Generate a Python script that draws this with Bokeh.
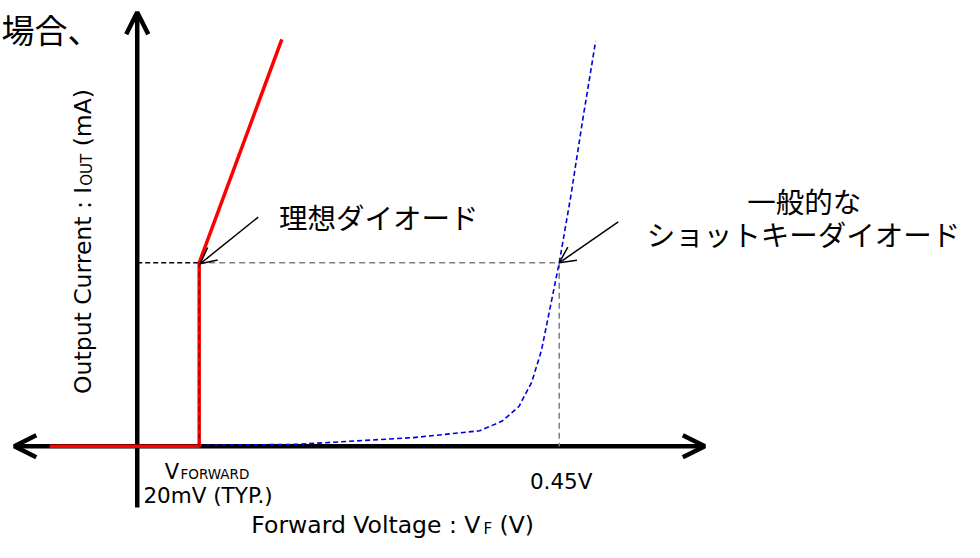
import math
from bokeh.plotting import figure
from bokeh.models import Range1d, Arrow, OpenHead
from bokeh.core.properties import value
from bokeh.embed import file_html
from bokeh.resources import INLINE

# Schematic units: origin where the two axes cross, x to the right, current upward (not to scale)
ideal_v = [-89, 63, 63, 147]
ideal_i = [0, 0, 189, 419]
schottky_v = [61, 161, 281, 348, 371, 388, 401, 411, 420, 429, 441, 453, 466]
schottky_i = [1, 2, 9, 16, 26, 41, 66, 99, 144, 189, 259, 337, 417]
op_ideal = (63, 189)       # ideal diode operating point
op_schottky = (429, 189)   # Schottky operating point (0.45V)

x_label_main = "Forward Voltage : V"
x_label_sub = "F"
x_label_tail = "(V)"
y_label_main = "Output Current : I"
y_label_sub = "OUT"
y_label_tail = "(mA)"
ideal_name = "理想ダイオード"
schottky_name = ["一般的な", "ショットキーダイオード"]
tick_045 = "0.45V"
vf_main = "V"
vf_sub = "FORWARD"
vf_value = "20mV (TYP.)"
cut_text = "場合、"

LATIN = value("DejaVu Sans")
CJK = value("Noto Sans CJK JP")

W, H = 964, 542
XR = (-139, 841)
YR = (-99, 459)
sx = W / (XR[1] - XR[0])   # px per unit
sy = H / (YR[1] - YR[0])

p = figure(width=W, height=H, output_backend="svg", toolbar_location=None,
           x_range=Range1d(*XR), y_range=Range1d(*YR),
           min_border=0, outline_line_color=None)
p.xaxis.visible = False
p.yaxis.visible = False
p.grid.visible = False
p.background_fill_color = "white"
p.border_fill_color = "white"

# axes with open arrowheads (drawn underneath the curves)
p.add_layout(Arrow(end=OpenHead(size=22, line_width=4.5, line_color="black"),
                   x_start=0, y_start=-63, x_end=0, y_end=447,
                   line_width=4.5, line_color="black", level="underlay"))
p.add_layout(Arrow(start=OpenHead(size=22, line_width=4.5, line_color="black"),
                   end=OpenHead(size=22, line_width=4.5, line_color="black"),
                   x_start=-125, y_start=0, x_end=577, y_end=0,
                   line_width=4.5, line_color="black", level="underlay"))

# guide lines
p.line([0, op_ideal[0]], [op_ideal[1], op_ideal[1]], line_color="black",
       line_width=1.5, line_dash="5 3")
p.line([op_ideal[0], op_schottky[0]], [op_ideal[1], op_schottky[1]], line_color="#808080",
       line_width=1.5, line_dash="6 4")
p.line([op_schottky[0], op_schottky[0]], [op_schottky[1], 0], line_color="#808080",
       line_width=1.5, line_dash="6 4")

# curves
p.line(schottky_v, schottky_i, line_color="#0000dd", line_width=1.6, line_dash="5 3")
p.line(ideal_v, ideal_i, line_color="#ff0000", line_width=3.5)
p.line([op_ideal[0], op_ideal[0]], [op_ideal[1], 0], line_color="#202020",
       line_width=1.2, line_dash="5 4")

# callout arrows
p.add_layout(Arrow(end=OpenHead(size=16, line_width=1.5, line_color="black"),
                   x_start=123, y_start=236, x_end=op_ideal[0] + 1, y_end=op_ideal[1] - 1,
                   line_width=1.5, line_color="black"))
p.add_layout(Arrow(end=OpenHead(size=16, line_width=1.5, line_color="black"),
                   x_start=489, y_start=231, x_end=op_schottky[0], y_end=op_schottky[1],
                   line_width=1.5, line_color="black"))

# Japanese labels
JP = value("28.5px")
p.text(x=[144], y=[236.5], text=[ideal_name], text_font=CJK, text_font_size=JP,
       text_align="left", text_baseline="middle", text_color="black")
p.text(x=[678], y=[253], text=[schottky_name[0]], text_font=CJK, text_font_size=JP,
       text_align="center", text_baseline="middle", text_color="black")
p.text(x=[518], y=[219.5], text=[schottky_name[1]], text_font=CJK, text_font_size=JP,
       text_align="left", text_baseline="middle", text_color="black")
p.text(x=[-138], y=[430], text=[cut_text], text_font=CJK, text_font_size=value("33px"),
       text_align="left", text_baseline="middle", text_color="black")

# tick-like labels
p.text(x=[431], y=[-36], text=[tick_045], text_font=LATIN, text_font_size=value("21.5px"),
       text_align="center", text_baseline="alphabetic", text_color="black")
p.text(x=[28], y=[-26], text=[vf_main], text_font=LATIN, text_font_size=value("21px"),
       text_align="left", text_baseline="alphabetic", text_color="black")
p.text(x=[44], y=[-28], text=[vf_sub], text_font=LATIN, text_font_size=value("13.5px"),
       text_align="left", text_baseline="alphabetic", text_color="black")
p.text(x=[72], y=[-51], text=[vf_value], text_font=LATIN, text_font_size=value("21.5px"),
       text_align="center", text_baseline="alphabetic", text_color="black")

# x-axis title with subscript
fx = 23.5
xs = 116
w_main = 9.879 * fx / sx
w_sub = 0.575 * 15 / sx
w_space = 0.318 * fx / sx
p.text(x=[xs], y=[-81], text=[x_label_main], text_font=LATIN, text_font_size=value(f"{fx}px"),
       text_align="left", text_baseline="alphabetic", text_color="black")
p.text(x=[xs + w_main], y=[-85], text=[x_label_sub], text_font=LATIN, text_font_size=value("15px"),
       text_align="left", text_baseline="alphabetic", text_color="black")
p.text(x=[xs + w_main + w_sub + w_space], y=[-81], text=[x_label_tail], text_font=LATIN,
       text_font_size=value(f"{fx}px"), text_align="left", text_baseline="alphabetic",
       text_color="black")

# y-axis title (rotated) with subscript
fy = 23.5
ys = 54
h_main = 8.855 * fy / sy
h_sub = 2.13 * 15 / sy
h_space = 0.318 * fy / sy
ang = math.pi / 2
p.text(x=[-55], y=[ys], text=[y_label_main], angle=ang, text_font=LATIN,
       text_font_size=value(f"{fy}px"), text_align="left", text_baseline="alphabetic",
       text_color="black")
p.text(x=[-51], y=[ys + h_main], text=[y_label_sub], angle=ang, text_font=LATIN,
       text_font_size=value("15px"), text_align="left", text_baseline="alphabetic",
       text_color="black")
p.text(x=[-55], y=[ys + h_main + h_sub + h_space], text=[y_label_tail], angle=ang,
       text_font=LATIN, text_font_size=value(f"{fy}px"), text_align="left",
       text_baseline="alphabetic", text_color="black")

open("out.html", "w").write(file_html(p, INLINE))
